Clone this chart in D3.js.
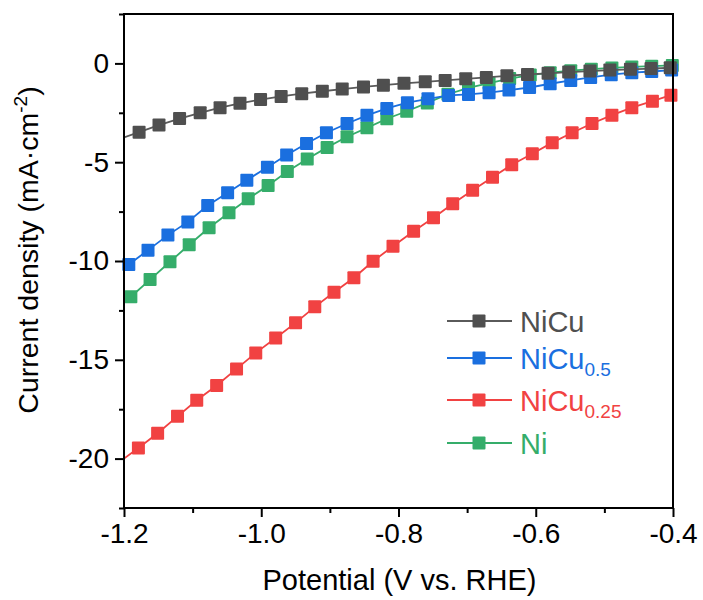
<!DOCTYPE html>
<html>
<head>
<meta charset="utf-8">
<script src="https://cdn.jsdelivr.net/npm/d3@7/dist/d3.min.js"></script>
<style>
  html, body { margin: 0; padding: 0; background: #fff; }
  svg { display: block; font-family: "Liberation Sans", Arial, sans-serif; }
</style>
</head>
<body>
<svg id="chart" width="703" height="600"></svg>
<script>
// Polarization curves: current density vs. potential
const xTicks = [-1.2, -1.0, -0.8, -0.6, -0.4];
const xTickLabels = ["-1.2", "-1.0", "-0.8", "-0.6", "-0.4"];
const yTicks = [0, -5, -10, -15, -20];
const yTickLabels = ["0", "-5", "-10", "-15", "-20"];

// NiCu
const nicuV = [-1.178, -1.149, -1.119, -1.089, -1.060, -1.031, -1.001, -0.971, -0.941, -0.911,
  -0.882, -0.851, -0.822, -0.792, -0.761, -0.732, -0.702, -0.672, -0.642, -0.612,
  -0.582, -0.552, -0.521, -0.492, -0.462, -0.432, -0.404];
const nicuJ = [-3.48, -3.12, -2.79, -2.50, -2.24, -2.02, -1.83, -1.67, -1.53, -1.41,
  -1.30, -1.19, -1.10, -1.01, -0.93, -0.86, -0.78, -0.71, -0.63, -0.56,
  -0.50, -0.44, -0.39, -0.34, -0.30, -0.26, -0.22];

// NiCu0.5
const nicu05V = [-1.193, -1.165, -1.136, -1.107, -1.078, -1.049, -1.021, -0.991, -0.963, -0.934,
  -0.905, -0.875, -0.846, -0.817, -0.787, -0.757, -0.727, -0.698, -0.668, -0.639,
  -0.609, -0.579, -0.549, -0.520, -0.490, -0.460, -0.431, -0.402];
const nicu05J = [-10.18, -9.45, -8.69, -8.02, -7.19, -6.55, -5.91, -5.25, -4.64, -4.05,
  -3.51, -3.04, -2.63, -2.28, -1.99, -1.79, -1.62, -1.57, -1.48, -1.35,
  -1.22, -1.03, -0.86, -0.71, -0.57, -0.47, -0.41, -0.34];

// NiCu0.25
const nicu025V = [-1.179, -1.151, -1.122, -1.094, -1.065, -1.036, -1.008, -0.979, -0.950, -0.922,
  -0.894, -0.865, -0.837, -0.808, -0.778, -0.749, -0.721, -0.692, -0.663, -0.635,
  -0.605, -0.576, -0.547, -0.518, -0.489, -0.460, -0.430, -0.403];
const nicu025J = [-19.46, -18.72, -17.86, -17.05, -16.30, -15.46, -14.65, -13.90, -13.13, -12.32,
  -11.58, -10.85, -10.01, -9.25, -8.49, -7.81, -7.10, -6.42, -5.76, -5.13,
  -4.57, -4.01, -3.51, -3.04, -2.62, -2.24, -1.91, -1.61];

// Ni
const niV = [-1.190, -1.162, -1.133, -1.105, -1.076, -1.047, -1.019, -0.990, -0.962, -0.933,
  -0.904, -0.875, -0.846, -0.817, -0.788, -0.758, -0.728, -0.698, -0.668, -0.638,
  -0.608, -0.579, -0.549, -0.519, -0.489, -0.460, -0.431, -0.401];
const niJ = [-11.81, -10.94, -10.04, -9.18, -8.32, -7.56, -6.85, -6.18, -5.47, -4.84,
  -4.25, -3.71, -3.26, -2.80, -2.42, -2.00, -1.56, -1.24, -1.00, -0.77,
  -0.59, -0.47, -0.37, -0.29, -0.23, -0.18, -0.14, -0.10];

// current at the left edge of the sweep (-1.2 V), where each trace begins
const edgeV = -1.2;
const edgeJ = { nicu: -3.75, nicu05: -10.36, nicu025: -20.0, ni: -12.12 };

const series = [
  { key: "nicu",    name: "NiCu", sub: "",     color: "#4f4f4f", line: "#5a5a5a", v: nicuV,    j: nicuJ },
  { key: "nicu05",  name: "NiCu", sub: "0.5",  color: "#1a6fdf", line: "#1a6fdf", v: nicu05V,  j: nicu05J },
  { key: "nicu025", name: "NiCu", sub: "0.25", color: "#f14242", line: "#f14242", v: nicu025V, j: nicu025J },
  { key: "ni",      name: "Ni",   sub: "",     color: "#35ad6a", line: "#35ad6a", v: niV,      j: niJ }
];

const svg = d3.select("#chart");
const plot = { left: 124, right: 673, top: 14, bottom: 508 };

const x = d3.scaleLinear().domain([-1.2, -0.4]).range([plot.left, plot.right]);
const y = d3.scaleLinear().domain([-22.5, 2.5]).range([plot.bottom, plot.top]);

svg.append("defs").append("clipPath").attr("id", "clip")
  .append("rect")
  .attr("x", plot.left).attr("y", plot.top)
  .attr("width", plot.right - plot.left).attr("height", plot.bottom - plot.top);

// traces, last legend entry drawn first
const line = d3.line().x(d => x(d[0])).y(d => y(d[1]));
const drawOrder = series.slice().reverse();
drawOrder.forEach(s => {
  const pts = [[edgeV, edgeJ[s.key]]].concat(s.v.map((v, i) => [v, s.j[i]]));
  const g = svg.append("g");
  g.append("path")
    .attr("d", line(pts))
    .attr("fill", "none")
    .attr("stroke", s.line)
    .attr("stroke-width", 1.8)
    .attr("clip-path", "url(#clip)");
  const m = 13;
  g.selectAll("rect")
    .data(s.v.map((v, i) => [v, s.j[i]]))
    .join("rect")
    .attr("x", d => x(d[0]) - m / 2)
    .attr("y", d => y(d[1]) - m / 2)
    .attr("width", m).attr("height", m)
    .attr("rx", 1)
    .attr("fill", s.color);
});

// axes
const tickFont = 28;
const xAxis = d3.axisBottom(x).tickValues(xTicks).tickSize(9).tickPadding(6)
  .tickFormat((d, i) => xTickLabels[i]);
const xMinor = d3.axisBottom(x).tickValues([-1.1, -0.9, -0.7, -0.5]).tickSize(5).tickFormat("");
const yAxis = d3.axisLeft(y).tickValues(yTicks).tickSize(9).tickPadding(6)
  .tickFormat((d, i) => yTickLabels[i]);
const yMinor = d3.axisLeft(y).tickValues([2.5, -2.5, -7.5, -12.5, -17.5, -22.5]).tickSize(5).tickFormat("");

function styleAxis(g) {
  g.select(".domain").remove();
  g.selectAll(".tick line").attr("stroke", "#000").attr("stroke-width", 2);
  g.selectAll(".tick text").attr("fill", "#000").attr("font-size", tickFont)
    .attr("font-family", "'Liberation Sans', Arial, sans-serif");
}

svg.append("g").attr("transform", `translate(0,${plot.bottom})`).call(xAxis).call(styleAxis);
svg.append("g").attr("transform", `translate(0,${plot.bottom})`).call(xMinor).call(styleAxis);
svg.append("g").attr("transform", `translate(${plot.left},0)`).call(yAxis).call(styleAxis);
svg.append("g").attr("transform", `translate(${plot.left},0)`).call(yMinor).call(styleAxis);

// frame
svg.append("rect")
  .attr("x", plot.left).attr("y", plot.top)
  .attr("width", plot.right - plot.left).attr("height", plot.bottom - plot.top)
  .attr("fill", "none").attr("stroke", "#000").attr("stroke-width", 2);

// axis titles
svg.append("text")
  .attr("x", (plot.left + plot.right) / 2 + 1).attr("y", 590)
  .attr("text-anchor", "middle").attr("font-size", 29).attr("fill", "#000")
  .text("Potential (V vs. RHE)");

const yt = svg.append("text")
  .attr("transform", `translate(38,${(plot.top + plot.bottom) / 2 - 11}) rotate(-90)`)
  .attr("text-anchor", "middle").attr("font-size", 28.5).attr("fill", "#000");
yt.append("tspan").text("Current density (mA·cm");
yt.append("tspan").attr("font-size", 19).attr("dy", -11).text("-2");
yt.append("tspan").attr("dy", 11).text(")");

// legend
const legendRows = [321, 358, 400, 443];
const lg = svg.append("g");
series.forEach((s, i) => {
  const cy = legendRows[i];
  lg.append("line")
    .attr("x1", 447).attr("x2", 512).attr("y1", cy).attr("y2", cy)
    .attr("stroke", s.line).attr("stroke-width", 1.8);
  lg.append("rect")
    .attr("x", 479 - 6.5).attr("y", cy - 6.5).attr("width", 13).attr("height", 13)
    .attr("rx", 1).attr("fill", s.color);
  const t = lg.append("text")
    .attr("x", 520).attr("y", cy + 10.5)
    .attr("font-size", 29).attr("fill", s.color);
  t.append("tspan").text(s.name);
  if (s.sub) {
    t.append("tspan").attr("font-size", 19).attr("dy", 7).text(s.sub);
  }
});
</script>
</body>
</html>
